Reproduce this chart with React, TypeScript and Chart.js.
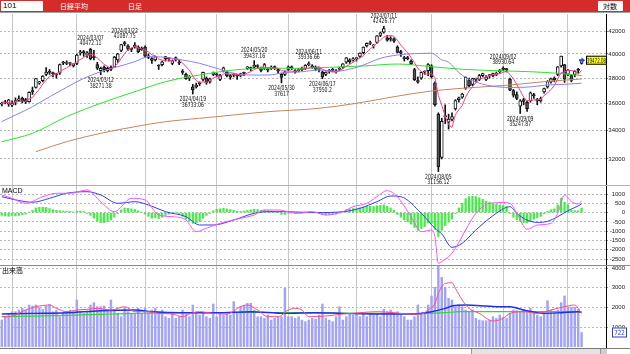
import React, { useEffect, useRef } from "react";
import { Chart, registerables } from "chart.js";
Chart.register(...registerables);

// ---------- data (daily, 2024/01/29 .. 2024/10/07) ----------
const monthStarts = [3, 22, 42, 63, 84, 104, 126, 147, 166];

const opens = [
  35950,36100,35950,35870,36150,36250,36420,36300,36150,37000,
  37250,37600,37800,38300,38500,38400,38300,38400,39300,39200,
  39200,39000,39200,40100,40200,39900,40400,39700,39100,38600,
  38900,38600,38900,38900,39500,40300,40900,40700,40400,40600,
  40600,40500,40600,39700,39600,39500,39000,39100,39600,39600,
  39200,39700,39300,38500,38300,38000,37300,37300,37600,37900,
  38000,37700,38300,38300,37900,38600,38500,38200,38300,38200,
  38200,38400,38800,38800,38900,39000,38800,38800,38700,38800,
  38900,38700,38300,38300,38700,38900,38600,38600,38800,38800,
  39100,39000,38900,38700,38500,38300,38600,38700,38500,38700,
  38900,39300,39500,39500,39600,39800,40100,40700,40900,40700,
  41000,41600,41900,41400,41300,41300,40600,40200,39700,39700,
  39400,38700,37800,38000,38500,38600,39000,37600,35200,32100,
  35000,34600,34800,35600,36300,36500,37200,37800,37500,37900,
  37900,38200,37900,38200,38200,38300,38500,38800,38700,37900,
  37000,36700,35800,36300,36100,36200,36700,36300,36200,36900,
  37300,37700,38000,38300,39000,39100,38300,38200,38300,38700,
  39200,
];
const highs = [
  36084,36249,36320,36200,36441,36590,36500,36400,36900,37287,
  37963,37740,38200,38865,38700,38500,38400,39156,39388,39426,
  39300,39200,39990,40314,40300,40200,40472,40300,39300,38900,
  39000,38900,39000,39800,40050,40823,41087,40800,40500,40979,
  40700,40600,40700,40000,39700,39800,39100,39400,39800,39700,
  39500,39750,39500,38700,38400,38200,37500,37600,37700,38500,
  38100,38000,38500,38400,38300,38900,38600,38300,38400,38300,
  38400,38500,38950,38900,39437,39100,38900,39200,38800,39000,
  39000,38800,38400,38600,39000,39000,38700,38800,38900,39100,
  39336,39100,39000,38900,38600,38500,38700,38800,38700,38900,
  39200,39700,39600,39700,39700,40100,40600,40950,41100,40800,
  41600,41900,42426,41600,41500,41400,40700,40300,39800,39800,
  39500,38800,38100,38500,38600,39200,39100,37700,35300,34900,
  35900,35200,35300,36300,36500,36800,38100,38000,38000,38000,
  38300,38400,38200,38300,38400,38500,38700,38930,38800,38000,
  37100,36900,36300,36400,36200,36900,36800,36400,36500,37200,
  37800,38000,38100,38950,39830,39100,38700,38300,38600,38800,
  39500,
];
const lows = [
  35820,35980,35790,35760,35900,36160,36050,36000,36100,36700,
  37200,37500,37700,38200,38300,38100,38000,38300,39100,39100,
  39000,38900,39100,39900,39800,39700,39500,39500,38700,38271,
  38500,38500,38600,38900,39300,40200,40700,40300,40200,40500,
  40100,40300,39700,39600,39200,39400,38700,39000,39400,39400,
  39100,39400,39100,38300,37900,37800,36733,37200,37400,37800,
  37500,37600,38200,38100,37800,38500,38100,37900,38100,37900,
  38100,38200,38700,38600,38800,38800,38500,38700,38500,38700,
  38700,38400,37617,38200,38600,38700,38400,38500,38600,38700,
  39000,38800,38600,38500,37950,38200,38400,38500,38400,38600,
  38800,39200,39200,39400,39400,39700,40000,40600,40800,40500,
  40900,41500,41800,41100,41100,41000,40100,39800,39400,39500,
  39100,37800,37600,37900,38300,38200,38000,35800,31156,32000,
  34500,34100,34700,35500,36100,36400,37100,37300,37400,37700,
  37800,38100,37800,38000,38100,38200,38400,38600,38500,37000,
  36500,36300,35247,35900,35400,36100,36400,35900,36100,36800,
  37200,37600,37700,38200,38900,37650,38200,37700,38100,38400,
  39150,
];
const closes = [
  36026,36065,36286,36011,36158,36354,36160,36119,36863,36897,
  37963,37703,38157,38487,38470,38363,38262,39098,39233,39239,
  39208,39166,39910,40109,40097,40090,39598,39688,38820,38797,
  38695,38807,38707,39740,40003,40815,40888,40414,40398,40762,
  40168,40369,39803,39838,39451,39773,38992,39347,39773,39581,
  39442,39523,39232,38471,37961,38079,37068,37438,37552,38460,
  37628,37934,38405,38274,38236,38835,38202,38073,38229,38179,
  38356,38385,38920,38787,39069,38946,38617,39103,38646,38900,
  38855,38556,38054,38487,38923,38837,38490,38703,38683,39038,
  39134,38876,38720,38814,38102,38482,38570,38633,38596,38804,
  39173,39667,39341,39583,39631,40074,40580,40913,40912,40780,
  41580,41831,42224,41190,41275,41097,40126,40063,39599,39594,
  39154,37869,37667,38468,38525,39101,38126,35909,31458,34675,
  35089,34831,35025,36232,36442,36726,38062,37388,37963,37951,
  38211,38364,38110,38288,38371,38362,38647,38700,38686,37047,
  36657,36391,36215,36159,35619,36833,36581,36203,36380,37155,
  37723,37940,37870,38925,39829,37919,38651,37808,38552,38635,
  39472.08,
];
const ma5 = [
  36151,36061,36073,36028,36109,36175,36194,36160,36331,36479,
  36800,37109,37517,37841,38156,38236,38348,38536,38685,38839,
  39008,39189,39351,39526,39698,39874,39961,39916,39659,39399,
  39120,38961,38765,38949,39190,39614,40031,40372,40504,40655,
  40526,40422,40300,40188,39926,39847,39571,39480,39467,39493,
  39427,39533,39510,39250,38926,38653,38162,37803,37620,37719,
  37629,37802,37996,38140,38095,38337,38390,38324,38315,38304,
  38208,38244,38414,38525,38703,38821,38868,38904,38876,38842,
  38824,38812,38602,38570,38575,38571,38558,38688,38727,38750,
  38810,38887,38890,38916,38729,38599,38538,38520,38477,38617,
  38755,38975,39116,39314,39479,39659,39842,40156,40422,40652,
  40953,41203,41465,41521,41620,41523,41182,40750,40432,40096,
  39707,39256,38777,38550,38337,38326,38377,38026,36624,35854,
  35051,34392,34216,35170,35524,35851,36497,36970,37316,37618,
  37915,37975,38120,38185,38269,38299,38356,38474,38553,38288,
  37947,37496,36999,36494,36208,36243,36281,36279,36323,36630,
  36808,37080,37414,37923,38457,38497,38639,38626,38552,38313,
  38624,
];
const ma25Pts = [[0,34650],[4,35130],[9,35760],[14,36520],[19,37260],[24,37980],[29,38520],[34,38930],[39,39350],[43,39770],[48,39720],[53,39490],[58,39210],[63,38800],[68,38390],[73,38250],[78,38250],[83,38450],[88,38520],[93,38660],[98,38550],[103,38800],[106,39070],[111,39630],[116,39910],[121,40030],[126,40060],[129,39500],[131,39300],[134,38450],[136,38050],[140,37590],[145,37310],[150,37250],[155,37300],[160,37450],[165,37500],[170,37590]];
const ma75Pts = [[0,33200],[9,33795],[19,35009],[29,36020],[39,36918],[48,37713],[58,38253],[68,38659],[78,38800],[87,38800],[96,38880],[106,38990],[116,39155],[126,38934],[135,38720],[145,38604],[155,38520],[163,38390],[170,38200]];
const ma200Pts = [[10,32500],[19,33200],[29,33795],[39,34272],[48,34641],[58,34890],[68,35136],[78,35382],[93,35638],[104,36020],[115,36527],[126,36972],[139,37264],[149,37447],[159,37713],[170,37929]];

const peakIndex = [26, 29, 36, 56, 74, 82, 90, 94, 112, 128, 147, 152];
const peakDate = ["2024/03/07","2024/03/12","2024/03/22","2024/04/19","2024/05/20","2024/05/30","2024/06/11","2024/06/17","2024/07/11","2024/08/05","2024/09/02","2024/09/09"];
const peakValue = [40472.11, 38271.38, 41087.75, 36733.06, 39437.16, 37617, 39336.66, 37950.2, 42426.77, 31156.12, 38930.64, 35247.87];
const peakIsHigh = [true, false, true, false, true, false, true, false, true, false, true, false];

const macdPts = [[0,948],[3,770],[7,500],[12,856],[16,1040],[20,1040],[25,1217],[29,587],[33,48],[38,770],[42,680],[46,-130],[50,-220],[54,-400],[57,-1030],[60,-845],[64,-576],[70,-307],[74,-130],[77,140],[81,140],[84,48],[87,-38],[91,48],[95,-130],[100,48],[103,318],[107,500],[110,856],[113,1180],[116,856],[120,-220],[123,-1030],[126,-937],[127,-1300],[128,-2730],[129,-2640],[132,-2190],[136,-937],[139,-38],[143,500],[147,540],[149,500],[151,-38],[154,-900],[157,-670],[161,-576],[163,-38],[165,948],[167,600],[169,463],[170,640]];
const signalPts = [[0,856],[5,650],[9,555],[14,770],[19,1040],[25,1125],[29,948],[34,500],[39,587],[43,410],[48,48],[54,-220],[58,-668],[62,-668],[68,-400],[74,-38],[78,48],[83,48],[92,0],[100,48],[105,230],[110,587],[114,894],[117,856],[123,-38],[127,-845],[129,-1150],[132,-1870],[135,-1650],[139,-937],[145,-38],[149,318],[151,-50],[154,-400],[157,-530],[160,-470],[163,-220],[166,100],[169,360],[170,463]];
const macdHist = [
  -150,-180,-200,-150,-180,-150,-120,-80,20,120,
  250,280,300,280,220,160,120,100,90,80,
  60,40,80,80,60,-50,-150,-300,-450,-540,
  -540,-480,-400,-250,-50,150,250,230,200,170,
  100,30,-80,-200,-300,-280,-320,-250,-150,-80,
  -60,20,-60,-200,-350,-450,-580,-550,-480,-300,
  -150,-50,100,180,200,230,200,170,120,80,
  60,80,120,150,180,170,130,140,110,80,
  50,10,-100,-100,-40,-30,-60,-30,-20,20,
  50,30,10,-20,-120,-130,-120,-100,-90,-30,
  60,150,180,220,220,260,300,340,340,330,
  370,390,410,330,250,120,-100,-250,-400,-500,
  -620,-800,-950,-850,-750,-550,-600,-900,-1300,-950,
  -700,-520,-350,-50,250,500,750,850,880,860,
  800,720,620,560,500,450,420,400,320,-50,
  -250,-400,-480,-540,-560,-450,-350,-280,-200,-60,
  80,150,200,420,780,560,420,120,100,100,
  250,
];

const volumes = [
  1360,1525,1695,1780,1780,1865,1950,1865,2119,2070,
  2119,2000,1900,2070,2150,1780,1865,1525,1730,1780,
  1865,1780,2373,1780,1695,1780,2119,2240,2034,2034,
  2070,1900,2373,1865,1695,1525,1950,1780,1660,1660,
  1950,1695,1950,1780,1865,1950,1780,1865,1525,1441,
  1695,1441,1525,1865,1660,1525,2119,1780,1610,1695,
  1525,1441,2170,1525,1695,1610,1660,1610,2288,1695,
  2034,2119,2204,2204,1865,1525,1525,1441,1610,1356,
  1441,1525,1525,2966,1525,1525,1441,1525,1356,1271,
  1356,1441,1400,1610,2170,1441,1356,1271,1525,2034,
  1356,1525,1695,1610,1695,1525,1695,1525,1695,1610,
  1695,1525,1898,1780,1865,1695,1780,1610,1525,1356,
  1356,1525,2119,1661,1695,2119,2576,3017,4100,3525,
  3017,2458,2373,2034,2119,2034,1865,1780,1865,1441,
  1356,1322,1322,1356,1525,1441,1610,1492,1441,1695,
  1865,1830,1780,1898,1729,1950,1695,1610,1525,1780,
  2340,1865,1780,1865,2240,2580,2000,2000,2000,1900,
  722,
];
const volMa5Pts = [[0,1525],[2,1525],[7,1865],[10,2034],[14,2119],[16,1950],[19,1780],[22,1865],[25,1898],[28,1950],[32,1865],[36,2034],[39,1780],[43,1780],[46,1695],[50,1661],[53,1525],[55,1661],[58,1780],[62,1695],[66,1661],[70,2034],[72,2119],[75,1865],[78,1525],[81,1525],[84,1865],[86,1950],[88,1865],[90,1525],[95,1559],[100,1661],[105,1729],[110,1780],[115,1729],[120,1661],[123,1661],[125,1865],[127,2204],[128,2712],[130,3220],[132,3254],[133,2966],[135,2373],[137,1950],[140,1695],[144,1305],[147,1441],[149,1695],[153,1780],[157,1695],[161,1865],[165,2034],[168,2119],[169,1950],[170,1695]];
const volMa25Pts = [[0,1661],[9,1695],[19,1729],[29,1830],[39,1865],[44,1780],[53,1729],[63,1729],[73,1780],[83,1695],[92,1729],[100,1695],[110,1661],[120,1661],[126,1780],[130,1950],[132,2068],[136,2119],[142,2068],[145,2034],[149,2034],[153,1865],[159,1695],[164,1729],[169,1780],[170,1746]];
const volMa75Pts = [[0,1525],[9,1559],[19,1593],[29,1644],[39,1695],[58,1729],[78,1740],[92,1720],[110,1695],[120,1680],[130,1729],[134,1780],[150,1780],[170,1780]];

const priceTicks = [32000, 34000, 36000, 38000, 40000, 42000];
const macdTicks = [-2500, -2000, -1500, -1000, -500, 0, 500, 1000];
const volTicks = [1000, 2000, 3000, 4000];

// ---------- helpers ----------
const X_MIN = -0.53;
const X_MAX = 177.15;
const TICK_FONT = '"Liberation Sans", Arial, sans-serif';

const pts = (arr: number[][]) => arr.map(([x, y]) => ({ x, y }));

function xAxis(): any {
  return {
    type: "linear",
    min: X_MIN,
    max: X_MAX,
    offset: false,
    ticks: { display: false },
    grid: { color: "#c8c8c8", lineWidth: 1, drawTicks: false, offset: false },
    border: { display: false },
    afterBuildTicks: (s: any) => {
      s.ticks = monthStarts.map((v) => ({ value: v }));
    },
    afterFit: (s: any) => {
      s.height = 0;
    },
  };
}

function yAxis(type: string, min: number, max: number, ticks: number[]): any {
  return {
    type,
    position: "right",
    min,
    max,
    afterBuildTicks: (s: any) => {
      s.ticks = ticks.map((v) => ({ value: v }));
    },
    afterFit: (s: any) => {
      s.width = 19;
    },
    ticks: {
      font: { size: 6, family: TICK_FONT },
      color: "#222",
      padding: 1,
      crossAlign: "far",
      autoSkip: false,
      maxRotation: 0,
      callback: (v: any) => String(v),
    },
    grid: { color: "#b8b8b8", lineWidth: 1, tickLength: 2, drawTicks: true, tickColor: "#888" },
    border: { display: true, color: "#000", width: 1, dash: [2, 2] },
  };
}

function baseOptions(scales: any): any {
  return {
    animation: false,
    responsive: false,
    maintainAspectRatio: false,
    events: [],
    layout: { padding: { top: 5, bottom: 5, left: 0, right: 5 } },
    plugins: { legend: { display: false }, tooltip: { enabled: false } },
    scales,
  };
}

function lineDs(data: any[], color: string, width: number, order: number, smooth: boolean): any {
  return {
    type: "line",
    data,
    borderColor: color,
    borderWidth: width,
    pointRadius: 0,
    fill: false,
    order,
    tension: smooth ? 0.4 : 0,
    cubicInterpolationMode: smooth ? "monotone" : "default",
  };
}

function narrowText(ctx: CanvasRenderingContext2D, s: string, x: number, y: number, sx: number) {
  ctx.save();
  ctx.translate(x, y);
  ctx.scale(sx, 1);
  ctx.fillText(s, 0, 0);
  ctx.restore();
}

const priceAnnot = {
  id: "priceAnnot",
  afterDraw(chart: any) {
    const { ctx, scales, chartArea } = chart;
    const xs = scales.x;
    const ys = scales.y;
    ctx.save();
    ctx.font = '7px "DejaVu Sans", sans-serif';
    ctx.fillStyle = "#111";
    ctx.textAlign = "center";
    ctx.textBaseline = "middle";
    peakIndex.forEach((idx, k) => {
      const px = xs.getPixelForValue(idx);
      const py = ys.getPixelForValue(peakValue[k]);
      const hi = peakIsHigh[k];
      narrowText(ctx, peakDate[k], px, hi ? py - 10 : py + 5.5, 0.66);
      narrowText(ctx, String(peakValue[k]), px, hi ? py - 4.8 : py + 11, 0.66);
    });
    // current price tag
    const last = closes[closes.length - 1];
    const ty = ys.getPixelForValue(last);
    const bx = chartArea.right - 20;
    ctx.fillStyle = "#ffff00";
    ctx.fillRect(bx, ty - 4.5, 21, 9);
    ctx.strokeStyle = "#000";
    ctx.lineWidth = 1;
    ctx.strokeRect(bx + 0.5, ty - 4, 20, 8);
    ctx.fillStyle = "#101060";
    ctx.font = '7px "DejaVu Sans", sans-serif';
    narrowText(ctx, last.toFixed(2), bx + 10.5, ty + 0.5, 0.58);
    // arrow
    ctx.fillStyle = "#1f4fe0";
    ctx.beginPath();
    ctx.moveTo(bx - 1, ty);
    ctx.lineTo(bx - 4.5, ty - 3);
    ctx.lineTo(bx - 4.5, ty + 3);
    ctx.closePath();
    ctx.fill();
    ctx.fillRect(bx - 7, ty - 1, 3, 2);
    ctx.restore();
  },
};

const volAnnot = {
  id: "volAnnot",
  afterDraw(chart: any) {
    const { ctx, scales, chartArea } = chart;
    const last = volumes[volumes.length - 1];
    const ty = scales.y.getPixelForValue(last);
    const bx = chartArea.right + 6;
    ctx.save();
    ctx.fillStyle = "#fff";
    ctx.fillRect(bx, ty - 5, 15, 10);
    ctx.strokeStyle = "#2a3fd0";
    ctx.lineWidth = 1;
    ctx.strokeRect(bx + 0.5, ty - 4.5, 14, 9);
    ctx.fillStyle = "#2a3fd0";
    ctx.font = '7px "DejaVu Sans", sans-serif';
    ctx.textAlign = "center";
    ctx.textBaseline = "middle";
    narrowText(ctx, String(last), bx + 7.5, ty + 0.5, 0.8);
    ctx.restore();
  },
};

export default function App() {
  const priceRef = useRef<HTMLCanvasElement>(null);
  const macdRef = useRef<HTMLCanvasElement>(null);
  const volRef = useRef<HTMLCanvasElement>(null);

  useEffect(() => {
    const idx = closes.map((_, i) => i);
    const charts: Chart[] = [];

    charts.push(
      new Chart(priceRef.current as HTMLCanvasElement, {
        type: "bar",
        data: {
          datasets: [
            {
              type: "bar",
              data: idx.map((i) => ({ x: i, y: [lows[i], highs[i]] })),
              backgroundColor: "#111",
              borderWidth: 0,
              barThickness: 1,
              grouped: false,
              order: 6,
            } as any,
            {
              type: "bar",
              data: idx.map((i) => ({ x: i, y: [opens[i], closes[i]] })),
              backgroundColor: idx.map((i) => (closes[i] >= opens[i] ? "#ffffff" : "#555555")),
              borderColor: "#111",
              borderWidth: 1,
              borderSkipped: false,
              barThickness: 3,
              minBarLength: 1,
              grouped: false,
              order: 5,
            } as any,
            lineDs(pts(ma200Pts), "#c8865a", 1, 4, true),
            lineDs(pts(ma75Pts), "#2fe02f", 1, 3, true),
            lineDs(pts(ma25Pts), "#8a80f0", 1, 2, true),
            lineDs(idx.map((i) => ({ x: i, y: ma5[i] })), "#ff3c8c", 1, 1, false),
          ],
        },
        options: baseOptions({ x: xAxis(), y: yAxis("logarithmic", 30280, 43545, priceTicks) }),
        plugins: [priceAnnot],
      } as any)
    );

    charts.push(
      new Chart(macdRef.current as HTMLCanvasElement, {
        type: "bar",
        data: {
          datasets: [
            {
              type: "bar",
              data: idx.map((i) => ({ x: i, y: macdHist[i] })),
              backgroundColor: "#40f040",
              borderWidth: 0,
              barThickness: 1.6,
              grouped: false,
              order: 3,
            } as any,
            lineDs(pts(signalPts), "#3040e8", 1, 2, true),
            lineDs(pts(macdPts), "#ff50ff", 1, 1, true),
          ],
        },
        options: baseOptions({ x: xAxis(), y: yAxis("linear", -2822, 1432, macdTicks) }),
      } as any)
    );

    charts.push(
      new Chart(volRef.current as HTMLCanvasElement, {
        type: "bar",
        data: {
          datasets: [
            {
              type: "bar",
              data: idx.map((i) => ({ x: i, y: volumes[i] })),
              backgroundColor: "#a2a2f8",
              borderWidth: 0,
              barThickness: 1.8,
              grouped: false,
              order: 4,
            } as any,
            lineDs(pts(volMa75Pts), "#33d633", 1.2, 3, true),
            lineDs(pts(volMa25Pts), "#1f2fe6", 1.4, 2, true),
            lineDs(pts(volMa5Pts), "#ff4a88", 1, 1, true),
          ],
        },
        options: baseOptions({ x: xAxis(), y: yAxis("linear", -66, 4103, volTicks) }),
        plugins: [volAnnot],
      } as any)
    );

    return () => charts.forEach((c) => c.destroy());
  }, []);

  const abs = (o: any): React.CSSProperties => ({ position: "absolute", ...o });
  const jp = '"Noto Sans CJK JP", "Noto Sans", sans-serif';

  return (
    <div style={{ position: "fixed", left: 0, top: 0, width: 630, height: 354, background: "#fff", overflow: "hidden" }}>
      <canvas ref={priceRef} width={630} height={181} style={abs({ left: 0, top: 9, width: 630, height: 181 })} />
      <canvas ref={macdRef} width={630} height={89} style={abs({ left: 0, top: 181, width: 630, height: 89 })} />
      <canvas ref={volRef} width={630} height={92} style={abs({ left: 0, top: 261, width: 630, height: 92 })} />

      {/* header */}
      <div style={abs({ left: 0, top: 0, width: 630, height: 12, background: "#d62b2b" })} />
      <div style={abs({ left: 1, top: 1, width: 42, height: 10, background: "#fff" })} />
      <span style={abs({ left: 3, top: 1, fontSize: 8, lineHeight: "10px", fontFamily: TICK_FONT, color: "#000" })}>101</span>
      <span style={abs({ left: 60, top: 1, fontSize: 7, lineHeight: "10px", fontFamily: jp, color: "#fff" })}>日経平均</span>
      <span style={abs({ left: 128, top: 1, fontSize: 7, lineHeight: "10px", fontFamily: jp, color: "#fff" })}>日足</span>
      <div style={abs({ left: 598, top: 1, width: 25, height: 10, background: "#fff" })} />
      <span style={abs({ left: 603, top: 1, fontSize: 7, lineHeight: "10px", fontFamily: jp, color: "#000" })}>対数</span>
      <div style={abs({ left: 0, top: 12, width: 630, height: 1, background: "#a0a0a0" })} />

      {/* separators */}
      <div style={abs({ left: 0, top: 185, width: 630, height: 1, background: "#b0b0b0" })} />
      <div style={abs({ left: 0, top: 265, width: 630, height: 1, background: "#8c8c8c" })} />
      <div style={abs({ left: 0, top: 348, width: 630, height: 1, background: "#7a7a7a" })} />

      {/* panel titles */}
      <span style={abs({ left: 2, top: 187, fontSize: 7, lineHeight: "8px", fontFamily: TICK_FONT, color: "#000" })}>MACD</span>
      <span style={abs({ left: 2, top: 266, fontSize: 7, lineHeight: "8px", fontFamily: jp, color: "#000" })}>出来高</span>

      {/* scroll strip */}
      <div style={abs({ left: 471, top: 349, width: 135, height: 5, background: "#e4e4e4", borderLeft: "1px solid #999" })} />
      <div style={abs({ left: 600, top: 349, width: 6, height: 5, background: "#d0d0d0", borderLeft: "1px solid #999" })} />
    </div>
  );
}
